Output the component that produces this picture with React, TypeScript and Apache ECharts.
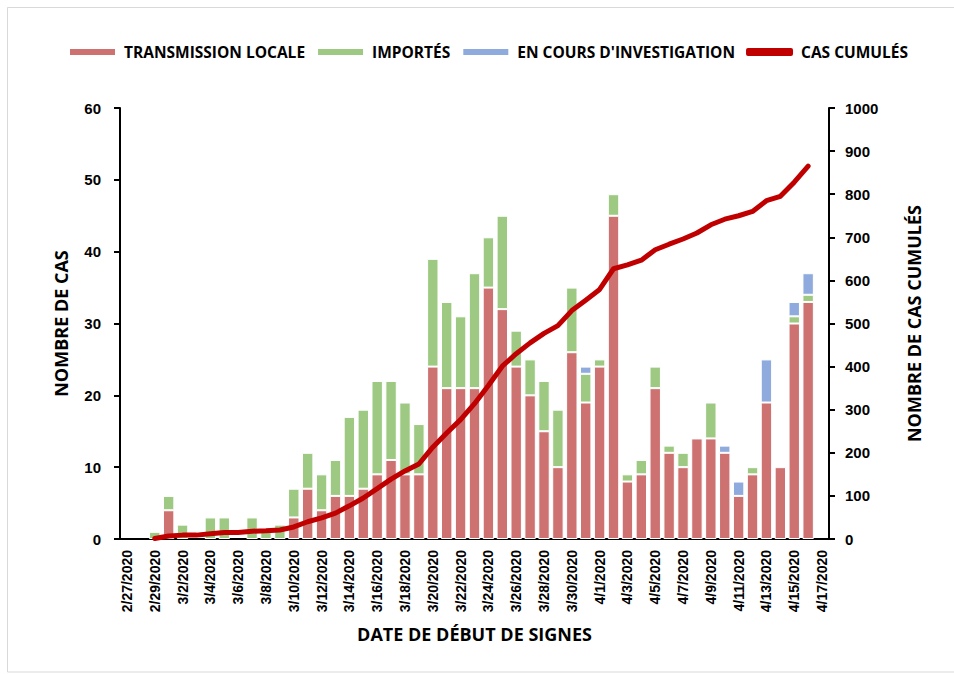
import React, { useEffect, useRef } from "react";
import * as echarts from "echarts";

const dates = [
  "2/27/2020", "2/28/2020", "2/29/2020", "3/1/2020", "3/2/2020", "3/3/2020", "3/4/2020", "3/5/2020",
  "3/6/2020", "3/7/2020", "3/8/2020", "3/9/2020", "3/10/2020", "3/11/2020", "3/12/2020", "3/13/2020",
  "3/14/2020", "3/15/2020", "3/16/2020", "3/17/2020", "3/18/2020", "3/19/2020", "3/20/2020", "3/21/2020",
  "3/22/2020", "3/23/2020", "3/24/2020", "3/25/2020", "3/26/2020", "3/27/2020", "3/28/2020", "3/29/2020",
  "3/30/2020", "3/31/2020", "4/1/2020", "4/2/2020", "4/3/2020", "4/4/2020", "4/5/2020", "4/6/2020",
  "4/7/2020", "4/8/2020", "4/9/2020", "4/10/2020", "4/11/2020", "4/12/2020", "4/13/2020", "4/14/2020",
  "4/15/2020", "4/16/2020", "4/17/2020",
];

const transmissionLocale = [
  0, 0, 0, 4, 0, 0, 0, 0, 0, 0, 0, 0, 3, 7, 4, 6, 6, 7, 9, 11, 9, 9, 24, 21, 21, 21,
  35, 32, 24, 20, 15, 10, 26, 19, 24, 45, 8, 9, 21, 12, 10, 14, 14, 12, 6, 9, 19, 10, 30, 33, 0,
];

const importes = [
  0, 0, 1, 2, 2, 0, 3, 3, 0, 3, 1, 2, 4, 5, 5, 5, 11, 11, 13, 11, 10, 7, 15, 12, 10, 16,
  7, 13, 5, 5, 7, 8, 9, 4, 1, 3, 1, 2, 3, 1, 2, 0, 5, 0, 0, 1, 0, 0, 1, 1, 0,
];

const enCours = [
  0, 0, 0, 0, 0, 0, 0, 0, 0, 0, 0, 0, 0, 0, 0, 0, 0, 0, 0, 0, 0, 0, 0, 0, 0, 0,
  0, 0, 0, 0, 0, 0, 0, 1, 0, 0, 0, 0, 0, 0, 0, 0, 0, 1, 2, 0, 6, 0, 2, 3, 0,
];

const casCumules: (number | null)[] = [
  null, null, 1, 7, 9, 9, 12, 15, 15, 18, 19, 21, 28, 40, 49, 60, 77, 95, 117, 139, 158, 174,
  213, 246, 277, 314, 356, 401, 430, 455, 477, 495, 530, 554, 579, 627, 636, 647, 671, 684,
  696, 710, 729, 742, 750, 760, 785, 795, 828, 865, null,
];

const leftTicks = { min: 0, max: 60, interval: 10 };
const rightTicks = { min: 0, max: 1000, interval: 100 };

const titleFont = "'Open Sans', sans-serif";
const numFont = "'Liberation Sans', Arial, sans-serif";

export default function App() {
  const ref = useRef<HTMLDivElement>(null);
  useEffect(() => {
    if (!ref.current) return;
    const chart = echarts.init(ref.current, null, { renderer: "svg" });
    const nz = (arr: number[]) => arr.map((v) => (v === 0 ? "-" : v));
    const barBase = {
      type: "bar",
      stack: "cas",
      barWidth: "82%",
      yAxisIndex: 0,
    };
    chart.setOption({
      animation: false,
      backgroundColor: "#ffffff",
      graphic: [
        {
          type: "rect",
          shape: { x: 7.5, y: 7.5, width: 980, height: 664.5 },
          style: { fill: "none", stroke: "#d9d9d9", lineWidth: 1 },
          silent: true,
        },
      ],
      legend: {
        left: 68,
        top: 44,
        padding: 0,
        itemWidth: 47,
        itemHeight: 8,
        itemGap: 11,
        textStyle: {
          fontFamily: titleFont,
          fontWeight: "bold",
          fontSize: 15.5,
          color: "#000",
          padding: [0, 0, 0, 3],
        },
        data: [
          { name: "TRANSMISSION LOCALE", icon: "rect" },
          { name: "IMPORTÉS", icon: "rect" },
          { name: "EN COURS D'INVESTIGATION", icon: "rect" },
          { name: "CAS CUMULÉS", icon: "roundRect" },
        ],
      },
      grid: { left: 120, right: 125, top: 108, bottom: 135 },
      xAxis: {
        type: "category",
        data: dates,
        name: "DATE DE DÉBUT DE SIGNES",
        nameLocation: "middle",
        nameGap: 86,
        nameTextStyle: { fontFamily: titleFont, fontWeight: "bold", fontSize: 18, color: "#000" },
        axisLine: { lineStyle: { color: "#000", width: 2 } },
        axisTick: { show: false },
        axisLabel: {
          interval: 1,
          rotate: 90,
          margin: 11,
          fontFamily: numFont,
          fontWeight: "bold",
          fontSize: 14,
          color: "#000",
        },
      },
      yAxis: [
        {
          type: "value",
          ...leftTicks,
          name: "NOMBRE DE CAS",
          nameLocation: "middle",
          nameRotate: 90,
          nameGap: 50,
          nameTextStyle: { fontFamily: titleFont, fontWeight: "bold", fontSize: 18, color: "#000" },
          axisLine: { show: true, lineStyle: { color: "#000", width: 2 } },
          axisTick: { show: true, length: 6, lineStyle: { color: "#000", width: 2 } },
          splitLine: { show: false },
          axisLabel: {
            margin: 19,
            fontFamily: numFont,
            fontWeight: "bold",
            fontSize: 15,
            color: "#000",
          },
        },
        {
          type: "value",
          ...rightTicks,
          position: "right",
          name: "NOMBRE DE CAS CUMULÉS",
          nameLocation: "middle",
          nameRotate: 90,
          nameGap: 76,
          nameTextStyle: { fontFamily: titleFont, fontWeight: "bold", fontSize: 18, color: "#000" },
          axisLine: { show: true, lineStyle: { color: "#000", width: 2 } },
          axisTick: { show: true, length: 6, lineStyle: { color: "#000", width: 2 } },
          splitLine: { show: false },
          axisLabel: {
            margin: 16,
            formatter: (v: number) => String(v),
            fontFamily: numFont,
            fontWeight: "bold",
            fontSize: 15,
            color: "#000",
          },
        },
      ],
      series: [
        {
          ...barBase,
          name: "TRANSMISSION LOCALE",
          data: nz(transmissionLocale),
          itemStyle: { color: "#CD7171", borderColor: "#ffffff", borderWidth: 1 },
        },
        {
          ...barBase,
          name: "IMPORTÉS",
          data: nz(importes),
          itemStyle: { color: "#9DC983", borderColor: "#ffffff", borderWidth: 1 },
        },
        {
          ...barBase,
          name: "EN COURS D'INVESTIGATION",
          data: nz(enCours),
          itemStyle: { color: "#8FABDD", borderColor: "#ffffff", borderWidth: 1 },
        },
        {
          type: "line",
          name: "CAS CUMULÉS",
          yAxisIndex: 1,
          data: casCumules.map((v) => (v === null ? "-" : v)),
          symbol: "none",
          z: 5,
          itemStyle: { color: "#C00000" },
          lineStyle: { color: "#C00000", width: 5, cap: "round", join: "round" },
        },
      ],
    });
    return () => chart.dispose();
  }, []);
  return (
    <div
      ref={ref}
      style={{ position: "absolute", left: 0, top: 0, width: 954, height: 674 }}
    />
  );
}
